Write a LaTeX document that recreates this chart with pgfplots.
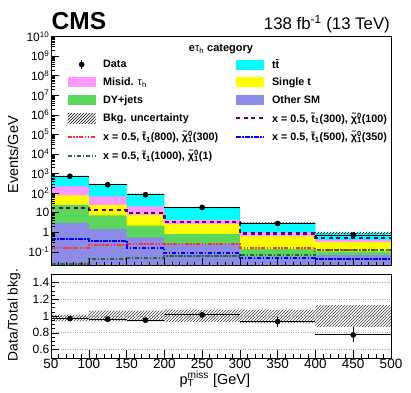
\documentclass[border=0pt]{standalone}
\usepackage{fontspec}
\setmainfont{Liberation Sans}
\usepackage{pgfplots}
\usepackage{pgfplotstable}
\pgfplotsset{compat=1.18}
\usetikzlibrary{patterns}

\definecolor{ttcol}{HTML}{00FFFF}
\definecolor{misidcol}{HTML}{FF99FF}
\definecolor{stcol}{HTML}{FFFF00}
\definecolor{dycol}{HTML}{5BD75B}
\definecolor{othcol}{HTML}{8C8CE6}
\definecolor{sigA}{HTML}{660066}
\definecolor{sigB}{HTML}{FF3333}
\definecolor{sigC}{HTML}{0000FF}
\definecolor{sigD}{HTML}{336633}

% stacked super/subscript, as wide as the wider of the two
\newsavebox\supbox
\newsavebox\subbox
\newcommand\supsub[2]{\sbox\supbox{\textsuperscript{#1}}\sbox\subbox{\textsubscript{#2}}%
  \ifdim\wd\supbox>\wd\subbox\rlap{\usebox\subbox}\usebox\supbox\else\rlap{\usebox\supbox}\usebox\subbox\fi}
\newcommand\fs[1]{\fontsize{#1}{#1}\selectfont}

% stack tops (cumulative), events/GeV; last row repeats the last bin
\pgfplotstableread{
x    tt     misid  st     dy     oth
50   750    218    76     25     2.9
100  278    68     25     7.2    1.45
150  87     20.7   7.8    2.2    0.54
200  18.2   4.3    2.6    0.80   0.257
300  3.0    0.97   0.61   0.137  0.058
400  0.93   0.41   0.31   0.104  0.07
500  0.93   0.41   0.31   0.104  0.07
}\stack

\pgfplotstableread{
x    sA     sB     sC     sD
50   17     0.155  0.45   0.025
100  14     0.23   0.37   0.042
150  9.6    0.25   0.166  0.051
200  3.3    0.257  0.086  0.063
300  0.86   0.166  0.048  0.065
400  0.50   0.126  0.044  0.12
500  0.50   0.126  0.044  0.12
}\signals

\pgfplotstableread{
x    y      ex   ey     r      er
75   727    25   3.8    0.970  0.005
125  267    25   2.3    0.962  0.008
175  82.6   25   1.3    0.950  0.015
250  18.5   50   0.43   1.014  0.024
350  2.8    50   0.17   0.934  0.060
450  0.72   50   0.086  0.775  0.090
}\data

\pgfplotsset{
  boxleg/.style={legend image code/.code={\fill[##1,draw=none] (0pt,-5pt) rectangle (28pt,5pt);}},
  lineleg/.style={legend image code/.code={\draw[##1] (0pt,0pt) -- (28pt,0pt);}},
  sigAstyle/.style={sigA, line width=2.4pt, dash pattern=on 4pt off 3.5pt},
  sigBstyle/.style={sigB, line width=2pt, dash pattern=on 4pt off 1.5pt on 1.5pt off 1.5pt on 1.5pt off 1.5pt},
  sigCstyle/.style={sigC, line width=2pt, dash pattern=on 4.5pt off 1.5pt on 1.5pt off 1.5pt},
  sigDstyle/.style={sigD, line width=2pt, dash pattern=on 4.5pt off 1.5pt on 1.5pt off 1.5pt},
  cmsaxis/.style={
    scale only axis, width=340pt,
    xmin=50, xmax=500,
    xtick={50,100,...,500}, minor x tick num=4,
    tick pos=left,
    major tick length=8pt, minor tick length=4pt,
    tick style={black, line width=0.5pt},
    axis line style={black, line width=0.7pt},
    axis on top,
  },
}

\begin{document}
\begin{tikzpicture}
\path[use as bounding box] (0,0) rectangle (411pt,392pt);

\begin{axis}[cmsaxis,
  at={(51pt,126.5pt)}, anchor=south west, height=229pt,
  ymode=log, ymin=0.02, ymax=1e10, log origin y=infty,
  xticklabels={},
  ytick={0.1,1,10,100,1000,1e4,1e5,1e6,1e7,1e8,1e9,1e10},
  yticklabels={10\textsuperscript{-1},1,10,10\textsuperscript{2},10\textsuperscript{3},10\textsuperscript{4},10\textsuperscript{5},10\textsuperscript{6},10\textsuperscript{7},10\textsuperscript{8},10\textsuperscript{9},10\textsuperscript{10}},
  yticklabel style={font=\fs{12}, inner sep=1.5pt},
  ylabel={Events/GeV},
  every axis y label/.style={at={(axis description cs:0,0.483)}, xshift=-38pt, rotate=90, anchor=center, font=\fs{14.5}},
  legend columns=2,
  legend cell align=left,
  legend style={at={(axis description cs:0.046,0.9)}, anchor=north west,
    draw=none, fill=none, inner sep=0pt, outer sep=0pt,
    row sep=7.6pt, column sep=0pt,
    font=\bfseries\fs{10.8},
    nodes={inner sep=0pt, text depth=0.15em},
    /tikz/every odd column/.append style={column sep=6.5pt}},
]
% stacked backgrounds, drawn from the total down
\addplot[const plot, fill=ttcol, draw=none, forget plot] table[x=x, y=tt] {\stack} \closedcycle;
\addplot[const plot, fill=misidcol, draw=none, forget plot] table[x=x, y=misid] {\stack} \closedcycle;
\addplot[const plot, fill=stcol, draw=none, forget plot] table[x=x, y=st] {\stack} \closedcycle;
\addplot[const plot, fill=dycol, draw=none, forget plot] table[x=x, y=dy] {\stack} \closedcycle;
\addplot[const plot, fill=othcol, draw=none, forget plot] table[x=x, y=oth] {\stack} \closedcycle;

% background uncertainty band
\addplot[pattern=north east lines, pattern color=black, draw=none, forget plot] coordinates {
  (50,761) (100,761) (100,296) (150,296) (150,92.7) (200,92.7) (200,19.6) (300,19.6)
  (300,3.2) (400,3.2) (400,1.05) (500,1.05) (500,0.81) (400,0.81) (400,2.75) (300,2.75)
  (300,16.9) (200,16.9) (200,81.3) (150,81.3) (150,260) (100,260) (100,701) (50,701)
} -- cycle;

% signals
\addplot[const plot, sigAstyle, forget plot] table[x=x, y=sA] {\signals};
\addplot[const plot, sigBstyle, forget plot] table[x=x, y=sB] {\signals};
\addplot[const plot, sigCstyle, forget plot] table[x=x, y=sC] {\signals};
\addplot[const plot, sigDstyle, forget plot] table[x=x, y=sD] {\signals};

% data
\addplot[only marks, mark=*, mark size=2.6pt, black, forget plot,
  error bars/.cd, x dir=both, x explicit, y dir=both, y explicit,
  error bar style={line width=0.9pt}, error mark=none]
  table[x=x, y=y, x error=ex, y error=ey] {\data};

% legend
\addlegendimage{black, legend image code/.code={\draw[black, line width=1pt] (14pt,-4.5pt) -- (14pt,4.5pt); \fill[black] (14pt,0pt) circle (2.6pt);}}
\addlegendentry{\makebox[132pt][l]{Data}}
\addlegendimage{boxleg, fill=ttcol}
\addlegendentry{t\={t}}
\addlegendimage{boxleg, fill=misidcol}
\addlegendentry{\makebox[132pt][l]{Misid. {\mdseries τ\textsubscript{h}}}}
\addlegendimage{boxleg, fill=stcol}
\addlegendentry{Single t}
\addlegendimage{boxleg, fill=dycol}
\addlegendentry{\makebox[132pt][l]{DY+jets}}
\addlegendimage{boxleg, fill=othcol}
\addlegendentry{Other SM}
\addlegendimage{boxleg, pattern=north east lines, pattern color=black}
\addlegendentry{\makebox[132pt][l]{Bkg. uncertainty}}
\addlegendimage{lineleg, sigAstyle}
\addlegendentry{x = 0.5, \~{t}\textsubscript{1}(300), \~{χ}\supsub{0}{1}(100)}
\addlegendimage{lineleg, sigBstyle}
\addlegendentry{\makebox[132pt][l]{x = 0.5, \~{t}\textsubscript{1}(800), \~{χ}\supsub{0}{1}(300)}}
\addlegendimage{lineleg, sigCstyle}
\addlegendentry{x = 0.5, \~{t}\textsubscript{1}(500), \~{χ}\supsub{0}{1}(350)}
\addlegendimage{lineleg, sigDstyle}
\addlegendentry{\makebox[132pt][l]{x = 0.5, \~{t}\textsubscript{1}(1000), \~{χ}\supsub{0}{1}(1)}}
\end{axis}

\begin{axis}[cmsaxis,
  at={(51pt,34pt)}, anchor=south west, height=84pt,
  ymin=0.5, ymax=1.5,
  ytick={0.6,0.8,1,1.2,1.4}, yticklabels={0.6,0.8,1,1.2,1.4},
  minor y tick num=3,
  xticklabels={50,100,150,200,250,300,350,400,450,500},
  yticklabel style={font=\fs{12}, inner sep=1.5pt},
  xticklabel style={font=\fs{13.5}, inner sep=1pt},
  ymajorgrids, major grid style={dotted, gray!70, line width=0.8pt},
  ylabel={Data/Total bkg.},
  every axis y label/.style={at={(axis description cs:0,0.512)}, xshift=-37pt, rotate=90, anchor=center, font=\fs{13.8}},
  xlabel={p\supsub{miss}{T}\ [GeV]},
  every axis x label/.style={at={(axis description cs:0.482,0)}, yshift=-26pt, anchor=base, font=\fs{14.5}},
]
\addplot[pattern=north east lines, pattern color=black!75, draw=none] coordinates {
  (50,1.015) (100,1.015) (100,1.065) (150,1.065) (150,1.065) (200,1.065) (200,1.075) (300,1.075)
  (300,1.075) (400,1.075) (400,1.13) (500,1.13) (500,0.87) (400,0.87) (400,0.915) (300,0.915)
  (300,0.93) (200,0.93) (200,0.935) (150,0.935) (150,0.935) (100,0.935) (100,0.935) (50,0.935)
} -- cycle;
\addplot[only marks, mark=*, mark size=2.6pt, black,
  error bars/.cd, x dir=both, x explicit, y dir=both, y explicit,
  error bar style={line width=0.9pt}, error mark=none]
  table[x=x, y=r, x error=ex, y error=er] {\data};
\end{axis}

\node[anchor=base west, inner sep=0pt, font=\bfseries\fs{24.5}] at (51.5pt,362.7pt) {CMS};
\node[anchor=base east, inner sep=0pt, font=\fs{16.8}] at (390pt,362.7pt) {138 fb\textsuperscript{-1} (13 TeV)};
\node[anchor=base, inner sep=0pt, font=\bfseries\fs{11}] at (221pt,340.3pt) {e{\mdseries τ\textsubscript{h}} category};
\end{tikzpicture}
\end{document}
